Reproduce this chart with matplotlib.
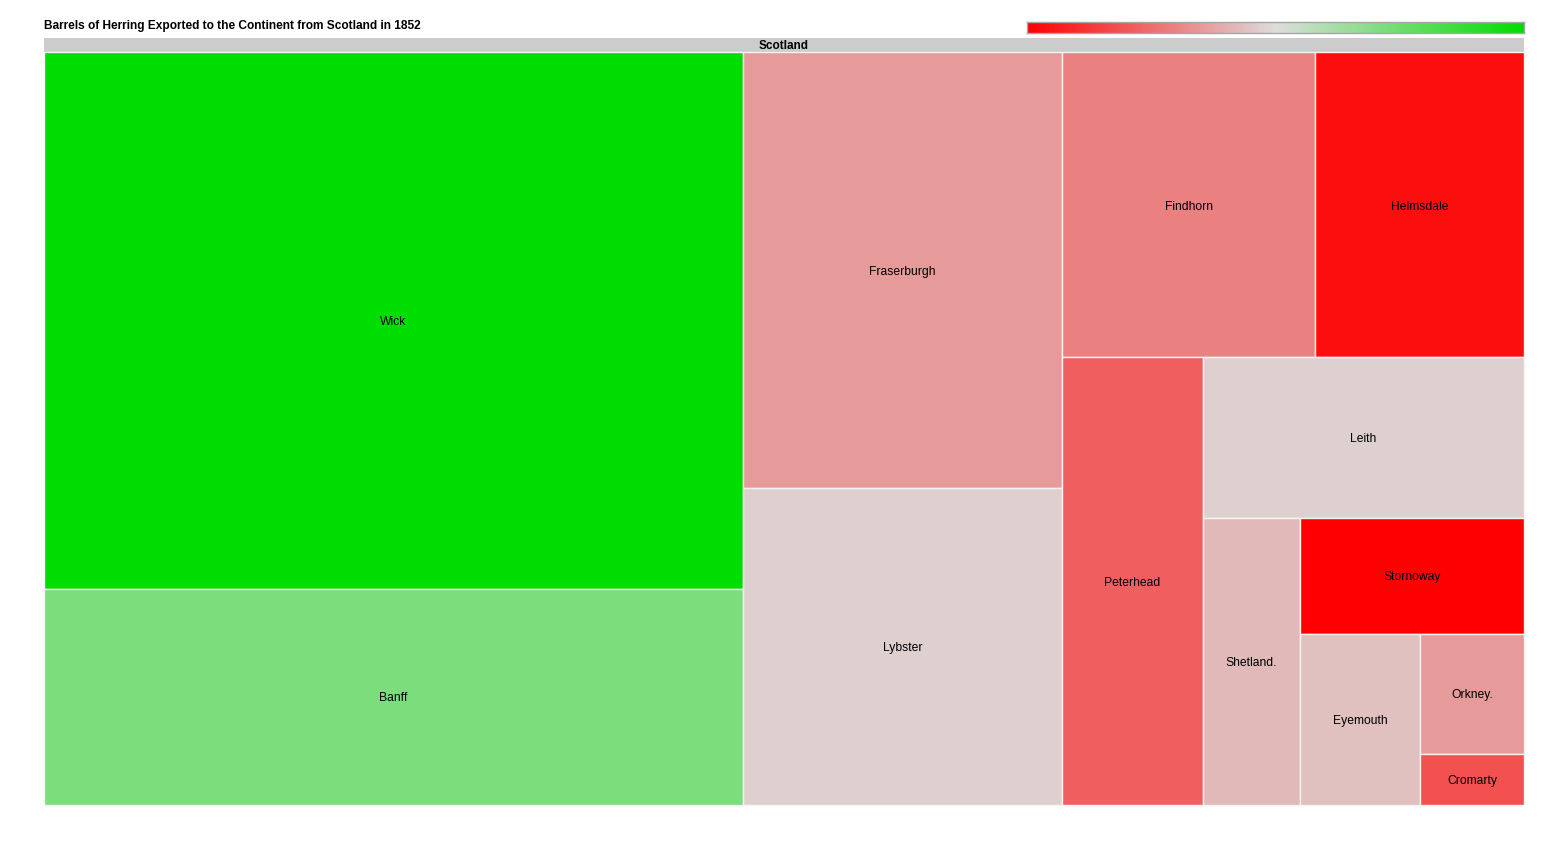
# Treemap of herring barrels exported from Scotland in 1852
import matplotlib
matplotlib.use("Agg")
import matplotlib.pyplot as plt
from matplotlib.colors import LinearSegmentedColormap
from matplotlib.patches import Rectangle
import numpy as np

W, H = 1559, 847

title = "Barrels of Herring Exported to the Continent from Scotland in 1852"
root = "Scotland"
ports = ["Wick", "Banff", "Fraserburgh", "Lybster", "Findhorn", "Helmsdale", "Peterhead",
         "Leith", "Shetland.", "Stornoway", "Eyemouth", "Orkney.", "Cromarty"]
barrels = [374664, 150984, 138765, 101123, 77165, 63745, 63027,
           51360, 27839, 25984, 20520, 12480, 5304]
change = [1.0, 0.44, -0.30, -0.06, -0.42, -0.93, -0.57,
          -0.06, -0.16, -1.0, -0.13, -0.30, -0.64]

# how many ports share each strip of the treemap
strip_counts = [2, 2, 2, 1, 1, 1, 1, 1, 1, 1]


def strip_layout(areas, counts, x, y, w, h):
    """Strips along the long side of what is left, y grows downward."""
    rects = []
    i = 0
    for n in counts:
        row = areas[i:i + n]
        i += n
        s = sum(row)
        if w >= h:
            # column on the left
            cw = s / h
            cy = y
            for a in row:
                rects.append((x, cy, cw, a / cw))
                cy += a / cw
            x += cw
            w -= cw
        else:
            # row on top
            rh = s / w
            cx = x
            for a in row:
                rects.append((cx, y, a / rh, rh))
                cx += a / rh
            y += rh
            h -= rh
    return rects


def add_axes(fig, x0, y0, x1, y1):
    # pixel box, measured from the top of the image
    ax = fig.add_axes([x0 / W, 1 - y1 / H, (x1 - x0) / W, (y1 - y0) / H])
    ax.set_xticks([])
    ax.set_yticks([])
    for s in ax.spines.values():
        s.set_visible(False)
    return ax


plt.rcParams["font.family"] = ["Liberation Sans", "DejaVu Sans"]
cmap = LinearSegmentedColormap.from_list("rg", ["#ff0000", "#dddddd", "#00dd00"])

fig = plt.figure(figsize=(W / 100, H / 100), dpi=100)

fig.text(44 / W, 1 - 25.5 / H, title, fontsize=8.6, fontweight="bold", color="black", va="center")

# colour scale
ax_scale = add_axes(fig, 1026.5, 22.5, 1524, 33)
ax_scale.imshow(np.linspace(-1, 1, 500).reshape(1, -1), cmap=cmap, vmin=-1, vmax=1, aspect="auto")
for s in ax_scale.spines.values():
    s.set_visible(True)
    s.set_color("#a6a6a6")
    s.set_linewidth(1.0)

# header bar
ax_head = add_axes(fig, 43.5, 38.5, 1523.5, 52)
ax_head.set_facecolor("#cccccc")
ax_head.text(0.5, 0.44, root, transform=ax_head.transAxes, ha="center", va="center",
             fontsize=8.5, fontweight="bold", color="black")

# map
ax = add_axes(fig, 43.5, 52.5, 1523.5, 804.5)
ax.set_xlim(0, 1480)
ax.set_ylim(752, 0)
scale = 1480 * 752 / sum(barrels)
rects = strip_layout([b * scale for b in barrels], strip_counts, 0, 0, 1480, 752)
for name, val, (x, y, w, h) in zip(ports, change, rects):
    ax.add_patch(Rectangle((x, y), w, h, facecolor=cmap((val + 1) / 2),
                           edgecolor="#f4f4f4", linewidth=1.0, clip_on=False))
    ax.text(x + w / 2 + 0.5, y + h / 2 + 1.5, name, ha="center", va="center", fontsize=8.7, color="black")

fig.savefig("out.png", dpi=100)
